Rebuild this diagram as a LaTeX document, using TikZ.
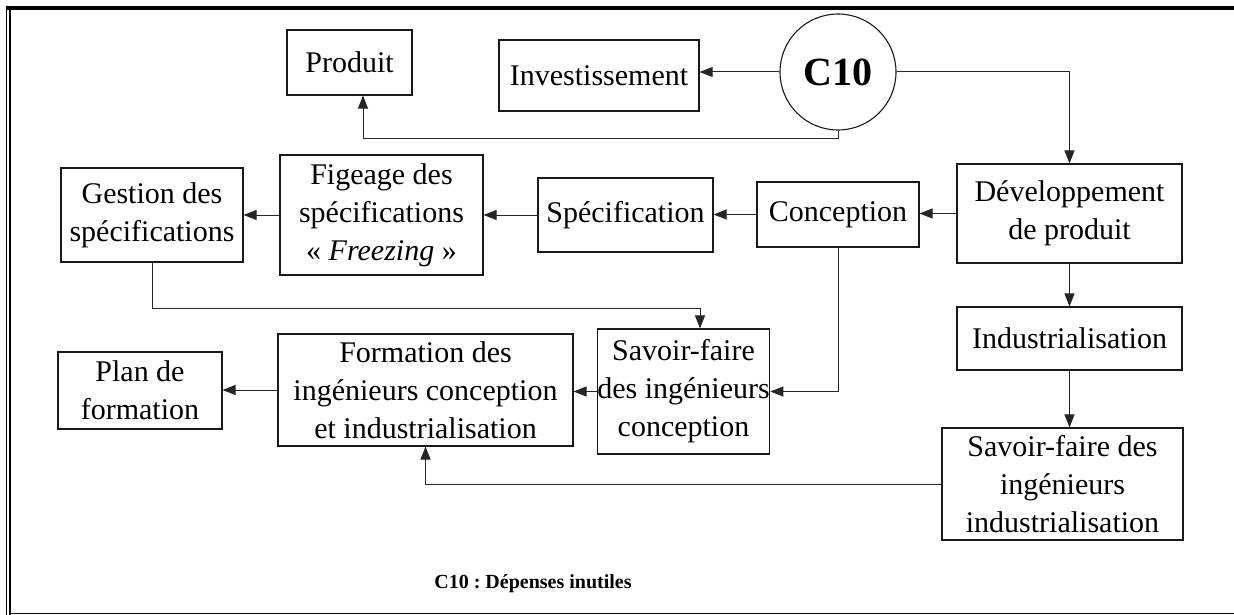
\documentclass[tikz,border=0pt]{standalone}
\usepackage{fontspec}
\setmainfont{Liberation Serif}
\usetikzlibrary{arrows.meta,calc}
\begin{document}
\frenchspacing
\begin{tikzpicture}[x=1pt,y=-1pt,
  box/.style={draw=black!90,line width=1.1pt,rectangle,inner sep=0pt,align=center,
    font=\fontsize{30}{38}\selectfont},
  conn/.style={draw=black!85,line width=1pt,-{Triangle[length=13pt,width=10pt]}},
  plain/.style={draw=black!85,line width=1pt}]
\useasboundingbox (0,0) rectangle (1234,615);
% frame
\fill (7,6) rectangle (1234,10);
\draw[line width=1.5pt] (6.5,6) -- (6.5,615);
\draw[line width=2.5pt] (10,9) -- (10,615);
\draw[line width=1.5pt] (11,613.5) -- (1234,613.5);
% nodes
\node[box,minimum width=125pt,minimum height=65pt] (prod) at (349.5,62.5) {Produit};
\node[box,minimum width=200pt,minimum height=71pt] (inv) at (599,75.5) {Investissement};
\node[draw=black!90,line width=1.1pt,circle,minimum size=116pt,inner sep=0pt,
  font=\fontsize{40}{44}\selectfont\bfseries] (c10) at (838,72) {C10};
\node[box,minimum width=225pt,minimum height=99pt] (dev) at (1069.5,213.5) {Développement\\de produit};
\node[box,minimum width=162pt,minimum height=65pt] (conc) at (838,214.5) {Conception};
\node[box,minimum width=175pt,minimum height=74pt] (spec) at (625.5,215) {Spécification};
\node[box,minimum width=203pt,minimum height=120pt] (fig) at (381.5,215) {Figeage des\\spécifications\\« \textit{Freezing} »};
\node[box,minimum width=182pt,minimum height=94pt] (gest) at (152,215) {Gestion des\\spécifications};
\node[box,minimum width=157pt,minimum height=125pt] (sfc) at (683.5,391.5) {Savoir-faire\\des ingénieurs\\conception};
\node[box,minimum width=295pt,minimum height=112pt] (form) at (425.5,390) {Formation des\\ingénieurs conception\\et industrialisation};
\node[box,minimum width=164pt,minimum height=77pt] (plan) at (140,390.5) {Plan de\\formation};
\node[box,minimum width=225pt,minimum height=63pt] (ind) at (1069.5,338.5) {Industrialisation};
\node[box,minimum width=241pt,minimum height=112pt] (sfi) at (1062.5,484) {Savoir-faire des\\ingénieurs\\industrialisation};
\node[font=\fontsize{20}{24}\selectfont\bfseries] (cap) at (533,584) {C10 : Dépenses inutiles};
% connectors
\draw[conn] (c10.west) -- (c10.west -| inv.east);
\draw[conn] (c10.east) -| (dev.north);
\draw[conn] (c10.south) -- ++(0,8) -| ([xshift=13.5pt]prod.south);
\draw[conn] (dev.west) -- (dev.west -| conc.east);
\draw[conn] (conc.west) -- (conc.west -| spec.east);
\draw[conn] (spec.west) -- (spec.west -| fig.east);
\draw[conn] (fig.west) -- (fig.west -| gest.east);
\draw[conn] (gest.south) -- ++(0,46) -| ([xshift=16.5pt]sfc.north);
\draw[conn] (conc.south) |- (sfc.east);
\draw[conn] (sfc.west) -- (sfc.west -| form.east);
\draw[conn] (form.west) -- (form.west -| plan.east);
\draw[conn] (dev.south) -- (ind.north);
\draw[conn] (ind.south) -- (ind.south |- sfi.north);
\draw[conn] (sfi.west) -| (form.south);
\end{tikzpicture}
\end{document}
